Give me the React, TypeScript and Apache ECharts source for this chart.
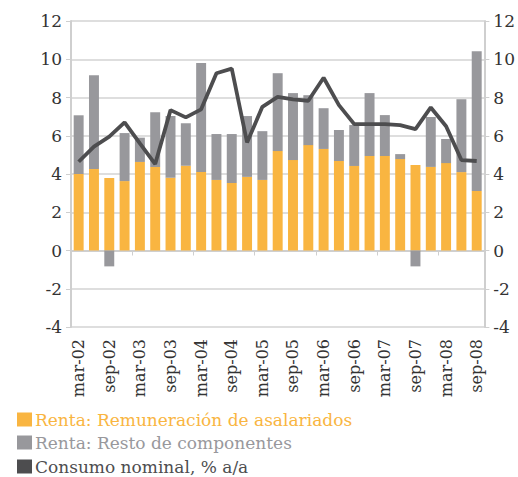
import React, { useEffect, useRef } from "react";
import * as echarts from "echarts";

const categories = [
  "mar-02", "jun-02", "sep-02", "dic-02",
  "mar-03", "jun-03", "sep-03", "dic-03",
  "mar-04", "jun-04", "sep-04", "dic-04",
  "mar-05", "jun-05", "sep-05", "dic-05",
  "mar-06", "jun-06", "sep-06", "dic-06",
  "mar-07", "jun-07", "sep-07", "dic-07",
  "mar-08", "jun-08", "sep-08",
];

const remuneracion = [
  4.0, 4.26, 3.79, 3.63, 4.63, 4.37, 3.81, 4.43, 4.1, 3.69, 3.53, 3.85, 3.69, 5.2,
  4.73, 5.51, 5.31, 4.68, 4.42, 4.94, 4.94, 4.78, 4.47, 4.37, 4.57, 4.1, 3.11,
];

const restoComponentes = [
  3.07, 4.9, -0.83, 2.51, 1.27, 2.86, 3.22, 2.23, 5.71, 2.4, 2.56, 3.18, 2.55, 4.07,
  3.5, 2.61, 2.13, 1.62, 2.14, 3.29, 2.14, 0.26, -0.83, 2.61, 1.26, 3.81, 7.31,
];

const consumoNominal = [
  4.64, 5.43, 5.95, 6.7, 5.6, 4.52, 7.34, 6.96, 7.38, 9.27, 9.51, 5.65, 7.51, 8.03,
  7.9, 7.83, 9.03, 7.6, 6.61, 6.61, 6.61, 6.56, 6.35, 7.48, 6.5, 4.73, 4.68,
];

const seriesNames = [
  "Renta: Remuneración de asalariados",
  "Renta: Resto de componentes",
  "Consumo nominal, % a/a",
];

const ORANGE = "#F9B541";
const GRAY = "#98989C";
const DARK = "#4D4D4F";
const FONT = "DejaVu Serif";

export default function App() {
  const ref = useRef<HTMLDivElement>(null);
  useEffect(() => {
    document.body.style.margin = "0";
    if (!ref.current) return;
    const chart = echarts.init(ref.current, null, { renderer: "svg" });
    const yAxisCommon = {
      type: "value",
      min: -4,
      max: 12,
      interval: 2,
      axisLine: { show: true, lineStyle: { color: "#CFCFCF", width: 2 } },
      axisTick: { show: true, length: 5, lineStyle: { color: "#CFCFCF", width: 1 } },
      axisLabel: { color: "#333333", fontFamily: FONT, fontSize: 17, margin: 9 },
    };
    const legendColors = [ORANGE, GRAY, DARK];
    const legendTops = [406, 429, 453];
    chart.setOption({
      animation: false,
      textStyle: { fontFamily: FONT },
      grid: { left: 71, right: 31, top: 21, bottom: 150, containLabel: false },
      legend: seriesNames.map((name, i) => ({
        orient: "vertical",
        left: 12,
        top: legendTops[i],
        itemWidth: 15,
        itemHeight: 14,
        itemGap: 0,
        icon: "rect",
        textStyle: { fontFamily: FONT, fontSize: 17, color: legendColors[i], padding: [0, 0, 0, -2] },
        data: [{ name, itemStyle: { color: legendColors[i] } }],
      })),
      xAxis: [
        {
          type: "category",
          data: categories,
          position: "bottom",
          axisLine: { show: false, onZero: false },
          axisTick: { show: false },
          axisLabel: {
            interval: 1,
            rotate: 90,
            color: "#333333",
            fontFamily: FONT,
            fontSize: 16,
            margin: 12,
          },
        },
        {
          type: "category",
          data: categories,
          position: "bottom",
          axisLine: { show: true, onZero: true, lineStyle: { color: "#CFCFCF", width: 2 } },
          axisTick: { show: true, length: 5, lineStyle: { color: "#CFCFCF" } },
          axisLabel: { show: false },
        },
      ],
      yAxis: [
        {
          ...yAxisCommon,
          position: "left",
          splitLine: { show: true, lineStyle: { color: "#D3D3D3", width: 1.5 } },
        },
        {
          ...yAxisCommon,
          position: "right",
          splitLine: { show: false },
        },
      ],
      series: [
        {
          name: seriesNames[0],
          type: "bar",
          stack: "renta",
          data: remuneracion,
          itemStyle: { color: ORANGE },
          barCategoryGap: "35%",
          z: 2,
        },
        {
          name: seriesNames[1],
          type: "bar",
          stack: "renta",
          data: restoComponentes,
          itemStyle: { color: GRAY },
          barCategoryGap: "35%",
          z: 2,
        },
        {
          name: seriesNames[2],
          type: "line",
          data: consumoNominal,
          symbol: "none",
          lineStyle: { color: DARK, width: 3.8 },
          itemStyle: { color: DARK },
          z: 3,
        },
      ],
    });
    return () => chart.dispose();
  }, []);
  return <div ref={ref} style={{ width: 518, height: 477 }} />;
}
